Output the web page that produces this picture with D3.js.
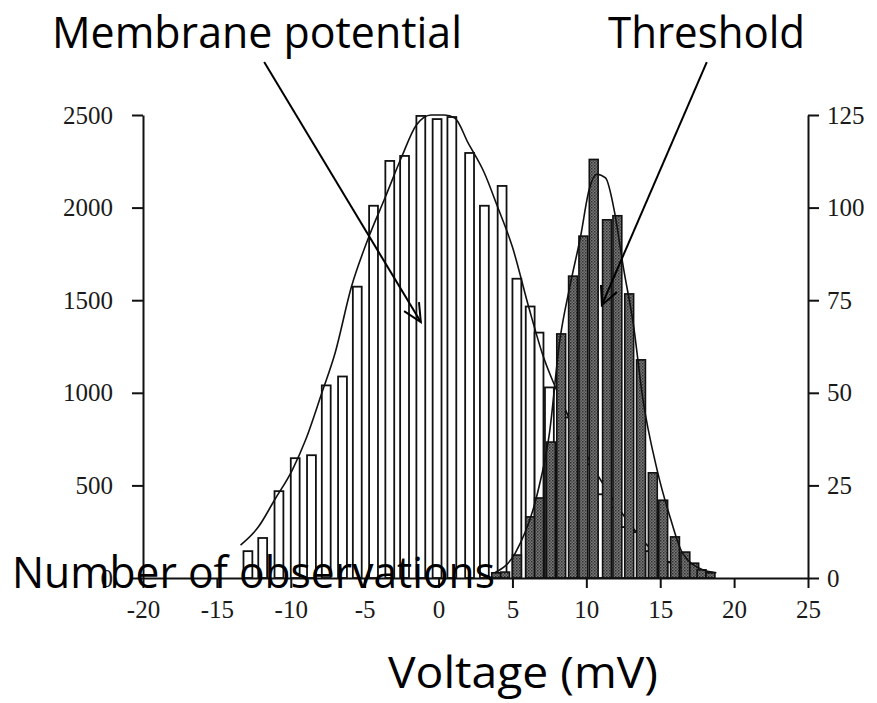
<!DOCTYPE html>
<html><head><meta charset="utf-8">
<script src="https://cdn.jsdelivr.net/npm/d3@7"></script>
<style>
html,body{margin:0;padding:0;background:#fff;}
svg{display:block;}
</style>
</head><body>
<div id="chart"></div>
<script>
// ---- data ----
const xTickValues = [-20, -15, -10, -5, 0, 5, 10, 15, 20, 25];
const leftTickValues = [0, 500, 1000, 1500, 2000, 2500];
const rightTickValues = [0, 25, 50, 75, 100, 125];

// membrane potential histogram (left axis)
const memCenters = [-12.9, -11.9, -10.8, -9.7, -8.6, -7.6, -6.5, -5.5, -4.4, -3.3, -2.3, -1.2, -0.1, 0.9, 2.1, 3.1, 4.3, 5.3, 6.2, 6.8, 7.5, 8.6, 9.4, 10.2, 10.9, 11.7, 12.5, 13.3, 14.3, 15.0, 15.8, 16.5];
const memCounts  = [145, 216, 469, 647, 663, 1040, 1088, 1573, 2010, 2252, 2279, 2495, 2478, 2489, 2295, 2010, 2117, 1616, 1466, 1325, 1029, 867, 700, 614, 452, 380, 275, 248, 145, 119, 86, 59];

// threshold histogram (right axis)
const thrCenters = [3.9, 4.5, 5.3, 6.2, 6.8, 7.6, 8.3, 9.1, 9.8, 10.5, 11.4, 12.1, 12.9, 13.7, 14.5, 15.2, 16.0, 16.7, 17.3, 17.8, 18.4];
const thrCounts  = [1.4, 1.6, 6.2, 16.5, 21.6, 36.7, 65.9, 81.5, 92.3, 113, 96.7, 97.8, 76.7, 58.9, 28.4, 21, 11.1, 7, 4, 2.2, 1.4];

// fitted curves
const memCurveX = [-13.4, -12.2, -11.1, -9.9, -9.0, -7.9, -7.0, -5.9, -4.8, -3.6, -2.5, -1.5, -0.5, 0.4, 1.1, 2.0, 3.1, 4.0, 5.0, 6.1, 7.1, 7.9, 8.9, 10.2, 11.6, 13.0, 14.3, 15.7, 17.0, 18.4];
const memCurveY = [178, 275, 421, 583, 745, 999, 1215, 1571, 1825, 2057, 2273, 2446, 2500, 2500, 2484, 2349, 2187, 2003, 1787, 1463, 1193, 1031, 853, 637, 448, 286, 162, 81, 38, 16];
const thrCurveX = [3.8, 5.2, 6.7, 7.5, 8.2, 8.9, 9.6, 10.2, 10.7, 11.3, 11.9, 12.5, 13.2, 13.8, 14.8, 15.7, 16.5, 17.9, 18.8];
const thrCurveY = [1.4, 6.8, 23, 39, 64, 79, 92, 105, 109, 108, 99, 84, 68, 49, 29, 16, 6.8, 2.2, 1.4];

// annotations: arrow start / tip in (mV, left-axis units)
const annLabels = ["Membrane potential", "Threshold"];
const annStart = [[-11.8, 2786], [18.15, 2786]];
const annTip = [[-1.2, 1382], [11.05, 1474]];
const xTitle = "Voltage (mV)";
const yTitle = "Number of observations";

// ---- drawing ----
const W = 877, H = 703;
const svg = d3.select("#chart").append("svg").attr("width", W).attr("height", H);

const x = d3.scaleLinear().domain([-20, 25]).range([143, 808]);
const yL = d3.scaleLinear().domain([0, 2500]).range([578, 115]);
const yR = d3.scaleLinear().domain([0, 125]).range([578, 115]);
const binW = 0.6;

const defs = svg.append("defs");
const pat = defs.append("pattern").attr("id", "stip").attr("patternUnits", "userSpaceOnUse")
  .attr("width", 3).attr("height", 3);
pat.append("rect").attr("width", 3).attr("height", 3).attr("fill", "#7a7a7a");
pat.append("rect").attr("width", 1.5).attr("height", 1.5).attr("fill", "#2e2e2e");
pat.append("rect").attr("x", 1.5).attr("y", 1.5).attr("width", 1.5).attr("height", 1.5).attr("fill", "#4a4a4a");

// membrane bars
svg.append("g").selectAll("rect").data(memCenters.map((c, i) => ({c, v: memCounts[i]})))
  .join("rect")
  .attr("x", d => x(d.c - binW / 2))
  .attr("width", d => x(d.c + binW / 2) - x(d.c - binW / 2))
  .attr("y", d => yL(d.v))
  .attr("height", d => yL(0) - yL(d.v))
  .attr("fill", "#fff").attr("stroke", "#111").attr("stroke-width", 1.8);

// membrane curve (behind threshold bars)
const memLine = d3.line().x(d => x(d[0])).y(d => yL(d[1])).curve(d3.curveMonotoneX);
svg.append("path").datum(memCurveX.map((v, i) => [v, memCurveY[i]]))
  .attr("d", memLine).attr("fill", "none").attr("stroke", "#111").attr("stroke-width", 1.6);

// threshold bars
svg.append("g").selectAll("rect").data(thrCenters.map((c, i) => ({c, v: thrCounts[i]})))
  .join("rect")
  .attr("x", d => x(d.c - binW / 2))
  .attr("width", d => x(d.c + binW / 2) - x(d.c - binW / 2))
  .attr("y", d => yR(d.v))
  .attr("height", d => yR(0) - yR(d.v))
  .attr("fill", "url(#stip)").attr("stroke", "#111").attr("stroke-width", 1.6);

// threshold curve
const thrLine = d3.line().x(d => x(d[0])).y(d => yR(d[1])).curve(d3.curveMonotoneX);
svg.append("path").datum(thrCurveX.map((v, i) => [v, thrCurveY[i]]))
  .attr("d", thrLine).attr("fill", "none").attr("stroke", "#111").attr("stroke-width", 1.6);

// axes
const tickFont = g => g.selectAll("text").attr("font-family", "'Liberation Serif', 'DejaVu Serif', serif")
  .attr("font-size", 25).attr("fill", "#1a1a1a");
const axisStyle = g => { g.select(".domain").attr("stroke", "#111").attr("stroke-width", 2);
  g.selectAll(".tick line").attr("stroke", "#111").attr("stroke-width", 2); };
const fmt = d => String(d);

svg.append("g").attr("transform", "translate(0,578)")
  .call(d3.axisBottom(x).tickValues(xTickValues).tickFormat(fmt).tickSize(10).tickPadding(12).tickSizeOuter(0))
  .call(tickFont).call(axisStyle);
svg.append("g").attr("transform", "translate(143,0)")
  .call(d3.axisLeft(yL).tickValues(leftTickValues).tickFormat(fmt).tickSize(11).tickPadding(19).tickSizeOuter(0))
  .call(tickFont).call(axisStyle);
svg.append("g").attr("transform", "translate(808,0)")
  .call(d3.axisRight(yR).tickValues(rightTickValues).tickFormat(fmt).tickSize(11).tickPadding(8).tickSizeOuter(0))
  .call(tickFont).call(axisStyle);

// arrows
annStart.forEach((s, i) => {
  const t = annTip[i];
  const x1 = x(s[0]), y1 = yL(s[1]), x2 = x(t[0]), y2 = yL(t[1]);
  svg.append("line").attr("x1", x1).attr("y1", y1).attr("x2", x2).attr("y2", y2)
    .attr("stroke", "#000").attr("stroke-width", 2);
  const ang = Math.atan2(y1 - y2, x1 - x2), L = 20, sp = 0.45;
  const p1 = [x2 + L * Math.cos(ang + sp), y2 + L * Math.sin(ang + sp)];
  const p2 = [x2 + L * Math.cos(ang - sp), y2 + L * Math.sin(ang - sp)];
  svg.append("path").attr("d", `M${p1[0]},${p1[1]}L${x2},${y2}L${p2[0]},${p2[1]}`)
    .attr("fill", "none").attr("stroke", "#000").attr("stroke-width", 2);
});

// texts
const sans = "'Open Sans', 'Noto Sans', sans-serif";
function label(txt, xx, yy, len) {
  svg.append("text").attr("x", xx).attr("y", yy).text(txt)
    .attr("font-family", sans).attr("font-size", 44).attr("fill", "#000")
    .attr("textLength", len).attr("lengthAdjust", "spacingAndGlyphs");
}
label(annLabels[0], 52, 48, 410);
label(annLabels[1], 608, 48, 197);
label(yTitle, 12, 588, 483);
label(xTitle, 388, 688, 270);
</script>
</body></html>
